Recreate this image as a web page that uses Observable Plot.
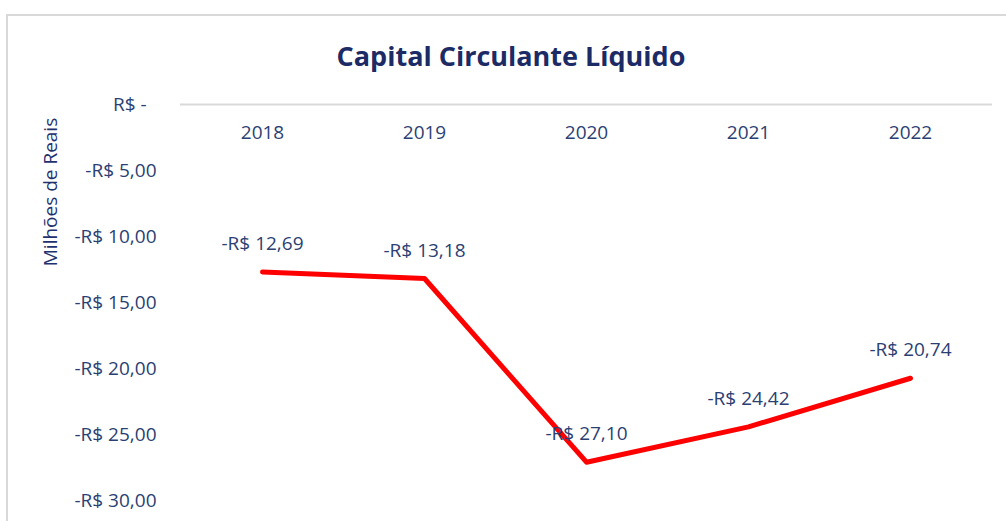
<!DOCTYPE html>
<html><head><meta charset="utf-8">
<script src="https://cdn.jsdelivr.net/npm/d3@7"></script>
<script src="https://cdn.jsdelivr.net/npm/@observablehq/plot@0.6"></script>
<style>
body{margin:0;background:#fff;font-family:"Open Sans",sans-serif;}
#wrap{position:relative;width:1006px;height:521px;overflow:hidden;background:#fff;}
#frame{position:absolute;left:6px;top:14px;width:1100px;height:600px;border-left:2px solid #d9d9d9;border-top:2px solid #d9d9d9;}
#title{position:absolute;left:0;width:1022px;top:38px;text-align:center;font-weight:700;font-size:27px;line-height:36px;color:#1c2b66;}
#ylabel{position:absolute;left:50px;top:192px;transform:translate(-50%,-50%) rotate(-90deg);white-space:nowrap;font-size:19px;color:#1f3270;}
#chart{position:absolute;left:0;top:0;}
</style>
</head><body>
<div id="wrap">
  <div id="frame"></div>
  <div id="chart"></div>
  <div id="title">Capital Circulante Líquido</div>
  <div id="ylabel">Milhões de Reais</div>
</div>
<script>
const years = ["2018", "2019", "2020", "2021", "2022"];
const values = [-12.69, -13.18, -27.10, -24.42, -20.74];
const yTicks = [0, -5, -10, -15, -20, -25, -30];

const data = years.map((y, i) => ({year: y, value: values[i]}));
const fmtNum = v => Math.abs(v).toFixed(2).replace(".", ",");
const fmtMoney = v => v === 0 ? "R$ -\u00a0\u00a0" : (v < 0 ? "-R$ " : "R$ ") + fmtNum(v);
const fmtLabel = v => (v < 0 ? "-R$ " : "R$ ") + fmtNum(v);

const textColor = "#2b3f73";
const plot = Plot.plot({
  width: 1006,
  height: 521,
  marginLeft: 180,
  marginRight: 14,
  marginTop: 104,
  marginBottom: 21,
  style: {fontFamily: "Open Sans, sans-serif", fontSize: "19px", color: textColor, background: "transparent", overflow: "visible"},
  x: {type: "band", domain: years, padding: 0, axis: null},
  y: {domain: [-30, 0], axis: null},
  marks: [
    Plot.ruleY([0], {stroke: "#d9d9d9", strokeWidth: 2}),
    Plot.axisY({ticks: yTicks, tickSize: 0, tickPadding: 24, tickFormat: fmtMoney, label: null, fontSize: 19, fill: textColor}),
    Plot.text(years, {x: d => d, y: () => 0, dy: 28, text: d => d, fontSize: 19, fill: textColor}),
    Plot.line(data, {x: "year", y: "value", stroke: "#ff0000", strokeWidth: 5, strokeLinejoin: "round", strokeLinecap: "round"}),
    Plot.text(data, {x: "year", y: "value", text: d => fmtLabel(d.value), dy: -28, fontSize: 19, fill: textColor})
  ]
});
document.getElementById("chart").appendChild(plot);
</script>
</body></html>
